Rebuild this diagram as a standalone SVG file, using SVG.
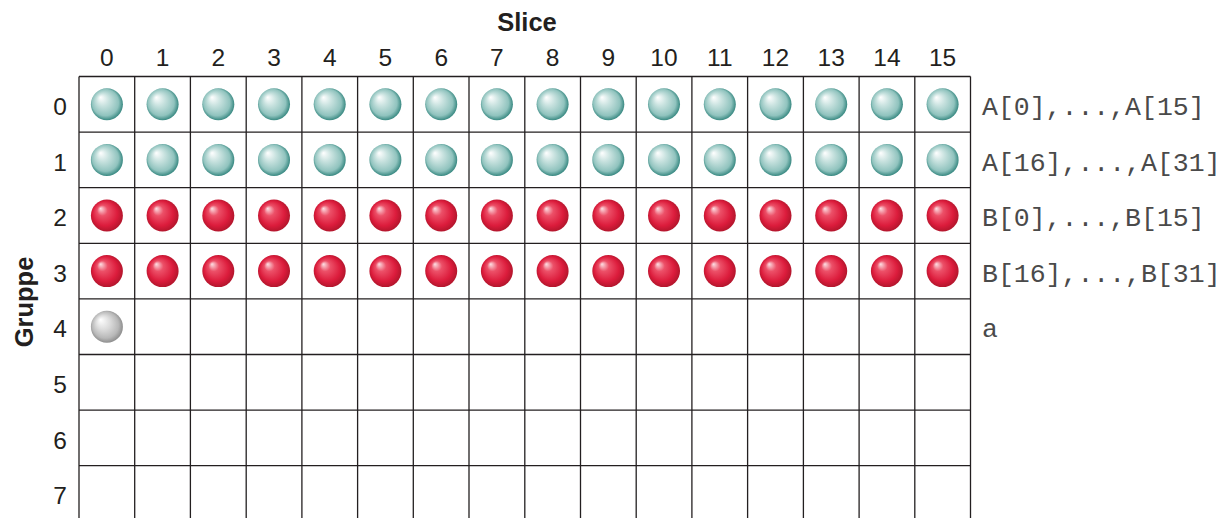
<svg xmlns="http://www.w3.org/2000/svg" width="1222" height="518" viewBox="0 0 1222 518">
<defs>
<radialGradient id="gTeal" cx="0.5" cy="0.5" r="0.55" fx="0.3" fy="0.28">
<stop offset="0" stop-color="#ffffff"/>
<stop offset="0.35" stop-color="#c8e2df"/>
<stop offset="0.75" stop-color="#90c3be"/>
<stop offset="1" stop-color="#1a756d"/>
</radialGradient>
<radialGradient id="gRed" cx="0.5" cy="0.5" r="0.55" fx="0.3" fy="0.28">
<stop offset="0" stop-color="#fde0e4"/>
<stop offset="0.3" stop-color="#ec5068"/>
<stop offset="0.7" stop-color="#dc1c3c"/>
<stop offset="1" stop-color="#a81428"/>
</radialGradient>
<radialGradient id="gGray" cx="0.5" cy="0.5" r="0.55" fx="0.3" fy="0.28">
<stop offset="0" stop-color="#ffffff"/>
<stop offset="0.4" stop-color="#dcdcdc"/>
<stop offset="0.75" stop-color="#b8b8b8"/>
<stop offset="1" stop-color="#808080"/>
</radialGradient>
<g id="bT"><circle r="16" fill="url(#gTeal)"/></g>
<g id="bR"><circle r="16" fill="url(#gRed)"/></g>
<g id="bG"><circle r="16" fill="url(#gGray)"/></g>
</defs>
<style>
.num{font-family:"Liberation Sans",Arial,sans-serif;font-size:24.5px;fill:#231f20;text-anchor:middle}
.ttl{font-family:"Liberation Sans",Arial,sans-serif;font-size:25.5px;font-weight:bold;fill:#231f20;text-anchor:middle}
.lbl{font-family:"Liberation Mono","Courier New",monospace;font-size:26.5px;fill:#4a4a4a}
.grid line{stroke:#231f20;stroke-width:1.3}
</style>
<rect width="1222" height="518" fill="#ffffff"/>
<text class="ttl" x="527" y="30.5">Slice</text>
<text class="ttl" transform="translate(33,302) rotate(-90)">Gruppe</text>
<g id="colHeaders">
<text class="num" x="106.9" y="66">0</text>
<text class="num" x="162.6" y="66">1</text>
<text class="num" x="218.3" y="66">2</text>
<text class="num" x="274.0" y="66">3</text>
<text class="num" x="329.7" y="66">4</text>
<text class="num" x="385.4" y="66">5</text>
<text class="num" x="441.2" y="66">6</text>
<text class="num" x="496.9" y="66">7</text>
<text class="num" x="552.6" y="66">8</text>
<text class="num" x="608.3" y="66">9</text>
<text class="num" x="664.0" y="66">10</text>
<text class="num" x="719.8" y="66">11</text>
<text class="num" x="775.5" y="66">12</text>
<text class="num" x="831.2" y="66">13</text>
<text class="num" x="886.9" y="66">14</text>
<text class="num" x="942.6" y="66">15</text>
</g>
<g id="rowHeaders">
<text class="num" x="60" y="115">0</text>
<text class="num" x="60" y="170.6">1</text>
<text class="num" x="60" y="226.2">2</text>
<text class="num" x="60" y="281.8">3</text>
<text class="num" x="60" y="337.4">4</text>
<text class="num" x="60" y="393">5</text>
<text class="num" x="60" y="448.6">6</text>
<text class="num" x="60" y="504.2">7</text>
</g>
<g id="grid" class="grid">
<line x1="79" y1="76.5" x2="970.5" y2="76.5"/>
<line x1="79" y1="132.1" x2="970.5" y2="132.1"/>
<line x1="79" y1="187.7" x2="970.5" y2="187.7"/>
<line x1="79" y1="243.3" x2="970.5" y2="243.3"/>
<line x1="79" y1="298.9" x2="970.5" y2="298.9"/>
<line x1="79" y1="354.5" x2="970.5" y2="354.5"/>
<line x1="79" y1="410.1" x2="970.5" y2="410.1"/>
<line x1="79" y1="465.7" x2="970.5" y2="465.7"/>
<line x1="79" y1="76.5" x2="79" y2="518"/>
<line x1="134.7" y1="76.5" x2="134.7" y2="518"/>
<line x1="190.4" y1="76.5" x2="190.4" y2="518"/>
<line x1="246.2" y1="76.5" x2="246.2" y2="518"/>
<line x1="301.9" y1="76.5" x2="301.9" y2="518"/>
<line x1="357.6" y1="76.5" x2="357.6" y2="518"/>
<line x1="413.3" y1="76.5" x2="413.3" y2="518"/>
<line x1="469.0" y1="76.5" x2="469.0" y2="518"/>
<line x1="524.8" y1="76.5" x2="524.8" y2="518"/>
<line x1="580.5" y1="76.5" x2="580.5" y2="518"/>
<line x1="636.2" y1="76.5" x2="636.2" y2="518"/>
<line x1="691.9" y1="76.5" x2="691.9" y2="518"/>
<line x1="747.6" y1="76.5" x2="747.6" y2="518"/>
<line x1="803.4" y1="76.5" x2="803.4" y2="518"/>
<line x1="859.1" y1="76.5" x2="859.1" y2="518"/>
<line x1="914.8" y1="76.5" x2="914.8" y2="518"/>
<line x1="970.5" y1="76.5" x2="970.5" y2="518"/>
</g>
<g id="row0">
<use href="#bT" x="106.9" y="104.3"/><use href="#bT" x="162.6" y="104.3"/><use href="#bT" x="218.3" y="104.3"/><use href="#bT" x="274.0" y="104.3"/>
<use href="#bT" x="329.7" y="104.3"/><use href="#bT" x="385.4" y="104.3"/><use href="#bT" x="441.2" y="104.3"/><use href="#bT" x="496.9" y="104.3"/>
<use href="#bT" x="552.6" y="104.3"/><use href="#bT" x="608.3" y="104.3"/><use href="#bT" x="664.0" y="104.3"/><use href="#bT" x="719.8" y="104.3"/>
<use href="#bT" x="775.5" y="104.3"/><use href="#bT" x="831.2" y="104.3"/><use href="#bT" x="886.9" y="104.3"/><use href="#bT" x="942.6" y="104.3"/>
</g>
<g id="row1">
<use href="#bT" x="106.9" y="159.9"/><use href="#bT" x="162.6" y="159.9"/><use href="#bT" x="218.3" y="159.9"/><use href="#bT" x="274.0" y="159.9"/>
<use href="#bT" x="329.7" y="159.9"/><use href="#bT" x="385.4" y="159.9"/><use href="#bT" x="441.2" y="159.9"/><use href="#bT" x="496.9" y="159.9"/>
<use href="#bT" x="552.6" y="159.9"/><use href="#bT" x="608.3" y="159.9"/><use href="#bT" x="664.0" y="159.9"/><use href="#bT" x="719.8" y="159.9"/>
<use href="#bT" x="775.5" y="159.9"/><use href="#bT" x="831.2" y="159.9"/><use href="#bT" x="886.9" y="159.9"/><use href="#bT" x="942.6" y="159.9"/>
</g>
<g id="row2">
<use href="#bR" x="106.9" y="215.5"/><use href="#bR" x="162.6" y="215.5"/><use href="#bR" x="218.3" y="215.5"/><use href="#bR" x="274.0" y="215.5"/>
<use href="#bR" x="329.7" y="215.5"/><use href="#bR" x="385.4" y="215.5"/><use href="#bR" x="441.2" y="215.5"/><use href="#bR" x="496.9" y="215.5"/>
<use href="#bR" x="552.6" y="215.5"/><use href="#bR" x="608.3" y="215.5"/><use href="#bR" x="664.0" y="215.5"/><use href="#bR" x="719.8" y="215.5"/>
<use href="#bR" x="775.5" y="215.5"/><use href="#bR" x="831.2" y="215.5"/><use href="#bR" x="886.9" y="215.5"/><use href="#bR" x="942.6" y="215.5"/>
</g>
<g id="row3">
<use href="#bR" x="106.9" y="271.1"/><use href="#bR" x="162.6" y="271.1"/><use href="#bR" x="218.3" y="271.1"/><use href="#bR" x="274.0" y="271.1"/>
<use href="#bR" x="329.7" y="271.1"/><use href="#bR" x="385.4" y="271.1"/><use href="#bR" x="441.2" y="271.1"/><use href="#bR" x="496.9" y="271.1"/>
<use href="#bR" x="552.6" y="271.1"/><use href="#bR" x="608.3" y="271.1"/><use href="#bR" x="664.0" y="271.1"/><use href="#bR" x="719.8" y="271.1"/>
<use href="#bR" x="775.5" y="271.1"/><use href="#bR" x="831.2" y="271.1"/><use href="#bR" x="886.9" y="271.1"/><use href="#bR" x="942.6" y="271.1"/>
</g>
<g id="row4">
<use href="#bG" x="106.9" y="326.7"/>
</g>
<g id="labels">
<text class="lbl" x="982" y="115">A[0],...,A[15]</text>
<text class="lbl" x="982" y="170.6">A[16],...,A[31]</text>
<text class="lbl" x="982" y="226.2">B[0],...,B[15]</text>
<text class="lbl" x="982" y="281.8">B[16],...,B[31]</text>
<text class="lbl" x="982" y="336.7">a</text>
</g>
</svg>
